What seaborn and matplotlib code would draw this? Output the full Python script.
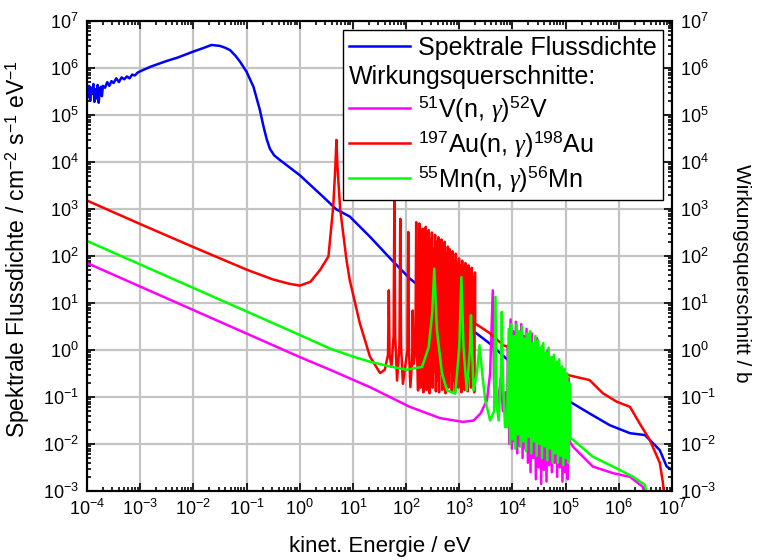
import numpy as np
import pandas as pd
import seaborn as sns
import matplotlib.pyplot as plt
from matplotlib.ticker import LogLocator, FixedLocator, NullFormatter
from matplotlib.lines import Line2D

plt.rcParams['font.family'] = ['Liberation Sans', 'DejaVu Sans']
plt.rcParams['mathtext.fontset'] = 'custom'
plt.rcParams['mathtext.rm'] = 'Liberation Sans'
plt.rcParams['mathtext.it'] = 'Liberation Serif:italic'
plt.rcParams['axes.unicode_minus'] = False

# values, as (log10 E / eV, log10 value)
flux = [(-4.0, 5.55), (-3.98, 5.38), (-3.96, 5.62), (-3.94, 5.30), (-3.92, 5.58),
        (-3.90, 5.45), (-3.88, 5.66), (-3.86, 5.28), (-3.84, 5.55), (-3.82, 5.35),
        (-3.80, 5.64), (-3.78, 5.26), (-3.76, 5.52), (-3.74, 5.60), (-3.72, 5.40),
        (-3.70, 5.62), (-3.66, 5.58), (-3.62, 5.70), (-3.58, 5.62), (-3.54, 5.72),
        (-3.50, 5.68), (-3.45, 5.78), (-3.40, 5.70), (-3.35, 5.80), (-3.30, 5.76),
        (-3.25, 5.82), (-3.20, 5.78), (-3.15, 5.86), (-3.10, 5.84), (-3.05, 5.90),
        (-3.0, 5.93), (-2.9, 5.98), (-2.8, 6.03), (-2.7, 6.07), (-2.5, 6.15),
        (-2.3, 6.22), (-2.0, 6.35), (-1.8, 6.43), (-1.66, 6.49), (-1.5, 6.47),
        (-1.4, 6.43), (-1.31, 6.38), (-1.2, 6.25), (-1.12, 6.13), (-1.0, 5.92),
        (-0.87, 5.60), (-0.75, 5.11), (-0.68, 4.75), (-0.62, 4.48), (-0.56, 4.28),
        (-0.48, 4.14), (-0.37, 4.04), (0.0, 3.72),
        (0.44, 3.26), (0.69, 2.99), (0.94, 2.84), (1.32, 2.41), (1.70, 1.95),
        (2.07, 1.52), (2.45, 1.17), (2.82, 0.78), (3.20, 0.46), (3.57, 0.14),
        (3.95, -0.25), (4.33, -0.57), (4.70, -0.78), (5.08, -1.10), (5.45, -1.35),
        (5.83, -1.60), (6.21, -1.77), (6.49, -1.81), (6.77, -2.13), (6.90, -2.48),
        (7.0, -2.55)]

vanadium = [(-4.0, 1.85), (-2.0, 0.85), (0.0, -0.15), (0.57, -0.42), (1.32, -0.79),
            (2.07, -1.21), (2.64, -1.45), (3.07, -1.53), (3.27, -1.50), (3.40, -1.35),
            (3.52, -1.07), (3.58, -0.50), (3.63, 1.27), (3.66, -1.07), (3.72, -1.20),
            (3.78, -0.60), (3.82, -1.30), (3.87, -0.90), (3.90, -1.60),
            (3.915, 0.10), (3.94, -2.00), (3.965, 0.65), (3.99, -2.10), (4.015, 0.40),
            (4.04, -1.95), (4.065, 0.60), (4.09, -2.20), (4.115, 0.35), (4.14, -2.05),
            (4.165, 0.55), (4.19, -2.30), (4.215, 0.30), (4.24, -2.10), (4.265, 0.45),
            (4.29, -2.40), (4.315, 0.20), (4.34, -2.60), (4.365, 0.35), (4.39, -2.30),
            (4.415, 0.10), (4.44, -2.75), (4.465, 0.25), (4.49, -2.50), (4.515, 0.00),
            (4.54, -2.85), (4.565, 0.10), (4.59, -2.55), (4.615, -0.10), (4.64, -2.80),
            (4.665, 0.00), (4.69, -2.45), (4.715, -0.20), (4.74, -2.60), (4.765, -0.15),
            (4.79, -2.40), (4.815, -0.30), (4.84, -2.70), (4.865, -0.25), (4.89, -2.50),
            (4.915, -0.40), (4.94, -2.80), (4.965, -0.45), (4.99, -2.60), (5.015, -0.55),
            (5.04, -2.75), (5.06, -0.60), (5.075, -1.95), (5.14, -2.06), (5.51, -2.48),
            (5.89, -2.62), (6.21, -2.70), (6.45, -2.91), (6.52, -3.20)]

gold = [(-4.0, 3.18), (-3.0, 2.68), (-2.0, 2.19), (-1.0, 1.71), (-0.5, 1.50),
        (-0.2, 1.41), (0.0, 1.37), (0.2, 1.45), (0.38, 1.70), (0.54, 1.99),
        (0.63, 3.05), (0.67, 3.90), (0.69, 4.47), (0.71, 3.90), (0.76, 3.00),
        (0.88, 1.91), (0.94, 1.49), (1.13, 0.57), (1.32, -0.14), (1.51, -0.49),
        (1.60, -0.42), (1.66, -0.10), (1.675, 1.27), (1.69, -0.10), (1.725, -0.36),
        (1.765, 0.30), (1.78, 3.20), (1.795, 0.30), (1.83, -0.65), (1.875, 0.10),
        (1.89, 2.79), (1.905, 0.10), (1.94, -0.72), (2.025, 0.00), (2.04, 2.51),
        (2.055, 0.00), (2.08, -0.79), (2.115, -0.20), (2.125, 0.84), (2.14, -0.30),
        (2.175, 0.00), (2.19, 2.72), (2.205, 0.00), (2.225, -0.86),
        (2.25, 2.69), (2.27, -0.80), (2.285, 2.30), (2.30, -0.70), (2.31, 2.58),
        (2.325, -0.90), (2.34, 2.45), (2.355, -0.55), (2.37, 2.62), (2.385, -0.85),
        (2.40, 2.20), (2.41, -0.40), (2.425, 2.55), (2.44, -0.92), (2.455, 2.35),
        (2.47, -0.60), (2.485, 2.50), (2.50, -0.80), (2.515, 2.15), (2.53, -0.45),
        (2.545, 2.45), (2.56, -0.88), (2.575, 2.30), (2.59, -0.65), (2.605, 2.40),
        (2.62, -0.90), (2.635, 2.10), (2.65, -0.50), (2.665, 2.35), (2.68, -0.85),
        (2.695, 2.25), (2.71, -0.60), (2.725, 2.30), (2.74, -0.92), (2.755, 2.05),
        (2.77, -0.55), (2.785, 2.20), (2.80, -0.80), (2.815, 2.15), (2.83, -0.45),
        (2.845, 1.95), (2.86, -0.88), (2.875, 2.10), (2.89, -0.65), (2.905, 1.90),
        (2.92, -0.90), (2.935, 2.05), (2.95, -0.55), (2.965, 1.85), (2.98, -0.80),
        (2.995, 1.95), (3.01, -0.60), (3.025, 1.80), (3.04, -0.90), (3.055, 1.90),
        (3.07, -0.50), (3.085, 1.75), (3.10, -0.85), (3.115, 1.85), (3.13, -0.60),
        (3.145, 1.70), (3.16, -0.88), (3.175, 1.80), (3.19, -0.55), (3.205, 1.60),
        (3.22, -0.80), (3.235, 1.75), (3.25, -0.65), (3.265, 1.55), (3.28, -0.90),
        (3.295, 1.65), (3.30, 0.56), (3.40, 0.49), (3.57, 0.36), (3.65, 0.28),
        (3.83, 0.10), (3.95, 0.05), (4.02, 0.00), (4.14, -0.07), (4.27, -0.22),
        (4.33, -0.33), (4.64, -0.40), (4.95, -0.49), (5.07, -0.54), (5.26, -0.59),
        (5.45, -0.64), (5.70, -0.92), (5.96, -1.10), (6.21, -1.21), (6.39, -1.56),
        (6.58, -1.91), (6.77, -2.40), (6.83, -2.83), (6.86, -3.30)]

manganese = [(-4.0, 2.32), (-2.0, 1.32), (0.0, 0.32), (0.57, 0.03), (1.0, -0.14),
             (1.32, -0.25), (1.70, -0.35), (2.0, -0.42), (2.30, -0.36), (2.425, 0.06),
             (2.49, 0.77), (2.53, 1.73), (2.58, 0.42), (2.675, -0.50), (2.77, -0.86),
             (2.925, -0.93), (3.0, 0.06), (3.04, 1.55), (3.08, 0.06), (3.14, -0.86),
             (3.20, 0.00), (3.22, 0.74), (3.24, 0.00), (3.27, -0.86), (3.33, -0.50),
             (3.38, 0.10), (3.44, -0.60), (3.49, -1.07), (3.58, -1.50), (3.655, -1.30),
             (3.68, 1.13), (3.705, -1.20), (3.74, -1.50), (3.78, -0.60), (3.80, 0.81),
             (3.82, -0.60), (3.86, -1.64), (3.90, -1.64),
             (3.93, 0.45), (3.955, -2.00), (3.98, 0.55), (4.005, -1.90), (4.03, 0.30),
             (4.055, -2.10), (4.08, 0.55), (4.105, -1.80), (4.13, 0.40), (4.155, -2.05),
             (4.18, 0.50), (4.205, -1.95), (4.23, 0.25), (4.255, -2.15), (4.28, 0.35),
             (4.305, -1.85), (4.33, 0.40), (4.355, -2.20), (4.38, 0.15), (4.405, -1.95),
             (4.43, 0.30), (4.455, -2.25), (4.48, 0.20), (4.505, -2.00), (4.53, 0.05),
             (4.555, -2.30), (4.58, 0.15), (4.605, -2.05), (4.63, -0.05), (4.655, -2.35),
             (4.68, 0.05), (4.705, -2.10), (4.73, -0.15), (4.755, -2.40), (4.78, -0.10),
             (4.805, -2.20), (4.83, -0.25), (4.855, -2.40), (4.88, -0.20), (4.905, -2.25),
             (4.93, -0.35), (4.955, -2.45), (4.98, -0.40), (5.005, -2.30), (5.03, -0.50),
             (5.055, -2.40), (5.07, -0.70), (5.09, -1.88), (5.14, -1.91), (5.51, -2.27),
             (5.96, -2.52), (6.27, -2.70), (6.49, -2.87), (6.55, -3.20)]

series = [("Spektrale Flussdichte", flux, "#0000ff"),
          (r"$^{51}$V(n, $\gamma$)$^{52}$V", vanadium, "#ff00ff"),
          (r"$^{197}$Au(n, $\gamma$)$^{198}$Au", gold, "#ff0000"),
          (r"$^{55}$Mn(n, $\gamma$)$^{56}$Mn", manganese, "#00ff00")]

fig = plt.figure(figsize=(7.6, 5.6), dpi=100)
ax = fig.add_axes([87 / 760, 69 / 560, 585 / 760, 470 / 560])

for name, pts, col in series:
    df = pd.DataFrame(pts, columns=["loge", "logy"])
    df["E"] = 10 ** df["loge"]
    df["y"] = 10 ** df["logy"]
    sns.lineplot(data=df, x="E", y="y", ax=ax, color=col, lw=1.8,
                 sort=False, estimator=None)

ax.set_xscale("log")
ax.set_yscale("log")
ax.set_xlim(1e-4, 1e7)
ax.set_ylim(1e-3, 1e7)
ax2 = ax.twinx()
ax2.set_yscale("log")
ax2.set_ylim(1e-3, 1e7)

minor_x = [m * 10.0 ** k for k in range(-4, 7) for m in range(2, 10)]
minor_y = [m * 10.0 ** k for k in range(-3, 7) for m in range(2, 10)]
for a in (ax, ax2):
    a.yaxis.set_major_locator(LogLocator(base=10, numticks=20))
    a.yaxis.set_minor_locator(FixedLocator(minor_y))
    a.yaxis.set_minor_formatter(NullFormatter())
ax.xaxis.set_major_locator(LogLocator(base=10, numticks=20))
ax.xaxis.set_minor_locator(FixedLocator(minor_x))
ax.xaxis.set_minor_formatter(NullFormatter())

for a in (ax, ax2):
    a.tick_params(which="both", direction="in", labelsize=13, pad=6, width=1.2)
    a.tick_params(which="major", length=6)
    a.tick_params(which="minor", length=3)
ax.tick_params(which="both", top=True, right=False)

ax.grid(True, which="major", color="#c4c4c4", lw=1.6)
ax.set_axisbelow(True)
for a in (ax, ax2):
    for s in a.spines.values():
        s.set_linewidth(1.5)

ax.set_xlabel("kinet. Energie / eV", fontsize=16, labelpad=12)
ax.set_ylabel(r"Spektrale Flussdichte / cm$^{-2}$ s$^{-1}$ eV$^{-1}$", fontsize=16.5)
ax.yaxis.set_label_coords(-0.094, 0.515)
ax2.set_ylabel("Wirkungsquerschnitt / b", fontsize=15, rotation=-90)
ax2.yaxis.set_label_coords(1.135, 0.464)

handles = [Line2D([], [], color=series[0][2], lw=1.8),
           Line2D([], [], color="none")] + \
          [Line2D([], [], color=c, lw=1.8) for _, _, c in series[1:]]
labels = [series[0][0], "Wirkungsquerschnitte:"] + [n for n, _, _ in series[1:]]
leg = ax.legend(handles, labels, loc="upper right", fontsize=18, fancybox=False,
                edgecolor="black", framealpha=1, handlelength=2.45,
                handletextpad=0.32, borderpad=0.25, labelspacing=0.2,
                borderaxespad=0.35)
leg.get_frame().set_linewidth(1.0)
# let the heading line start at the box edge, without a handle slot
row = leg._legend_handle_box.get_children()[0].get_children()[1]
row.get_children()[0].width = 0
row.sep = 0

fig.savefig("out.png", dpi=100)
